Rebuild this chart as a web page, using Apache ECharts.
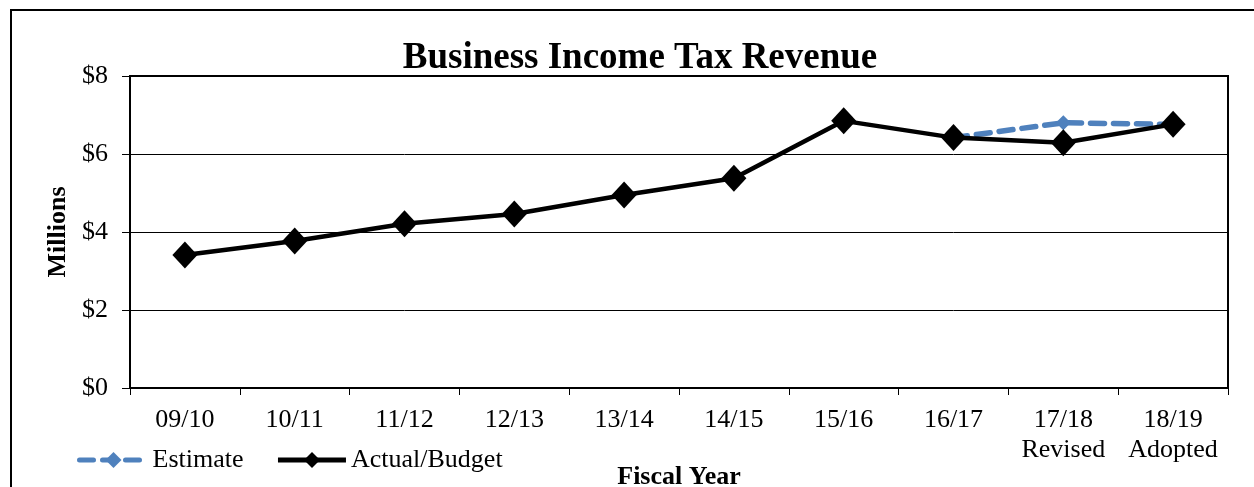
<!DOCTYPE html>
<html>
<head>
<meta charset="utf-8">
<script src="https://cdn.jsdelivr.net/npm/echarts@6/dist/echarts.min.js"></script>
<style>
  html, body { margin: 0; padding: 0; background: #fff; }
  #chart { width: 1254px; height: 487px; }
</style>
</head>
<body>
<div id="chart"></div>
<script>
// Fiscal years (second line marks the revised / adopted budgets)
const categories = ['09/10', '10/11', '11/12', '12/13', '13/14', '14/15', '15/16', '16/17', '17/18\nRevised', '18/19\nAdopted'];
// Revenue in millions of dollars
const actualBudget = [3.41, 3.77, 4.21, 4.46, 4.95, 5.38, 6.85, 6.42, 6.29, 6.76];
const estimate = [null, null, null, null, null, null, null, 6.42, 6.80, 6.76];
const yTicks = [0, 2, 4, 6, 8];

const serif = '"Liberation Serif", "Times New Roman", serif';
const chart = echarts.init(document.getElementById('chart'));

chart.setOption({
  animation: false,
  backgroundColor: '#fff',
  title: {
    text: 'Business Income Tax Revenue',
    left: 635, top: 35, textAlign: 'center',
    textStyle: { fontFamily: serif, fontWeight: 'bold', fontSize: 37, color: '#000' }
  },
  legend: {
    left: 72, top: 442,
    itemWidth: 68, itemHeight: 20, itemGap: 32,
    lineStyle: { width: 5 },
    textStyle: { fontFamily: serif, fontSize: 26, color: '#000', padding: [0, 0, 0, 0] },
    data: ['Estimate', 'Actual/Budget']
  },
  grid: {
    left: 130, top: 76, right: 26, bottom: 99,
    outerBoundsMode: 'none',
    show: true, borderColor: '#000', borderWidth: 2
  },
  xAxis: {
    type: 'category',
    data: categories,
    boundaryGap: true,
    name: 'Fiscal Year',
    nameLocation: 'middle', nameGap: 76,
    nameMoveOverlap: false,
    nameTextStyle: { fontFamily: serif, fontWeight: 'bold', fontSize: 26, color: '#000' },
    axisLine: { lineStyle: { color: '#000', width: 2 } },
    axisTick: { show: true, length: 7, lineStyle: { color: '#000', width: 1 } },
    axisLabel: {
      fontFamily: serif, fontSize: 26, color: '#000',
      margin: 17, lineHeight: 30, interval: 0
    }
  },
  yAxis: {
    type: 'value',
    min: yTicks[0], max: yTicks[yTicks.length - 1], interval: 2,
    name: 'Millions',
    nameLocation: 'middle', nameRotate: 90, nameGap: 59,
    nameMoveOverlap: false,
    nameTextStyle: { fontFamily: serif, fontWeight: 'bold', fontSize: 26, color: '#000' },
    axisLine: { show: true, lineStyle: { color: '#000', width: 2 } },
    axisTick: { show: true, inside: false, length: 8, lineStyle: { color: '#000', width: 1 } },
    axisLabel: {
      fontFamily: serif, fontSize: 26, color: '#000', margin: 22,
      formatter: v => '$' + v
    },
    splitLine: { show: true, lineStyle: { color: '#000', width: 1 } }
  },
  series: [
    {
      name: 'Estimate',
      type: 'line',
      data: estimate,
      z: 2,
      symbol: 'diamond', symbolSize: 15,
      itemStyle: { color: '#4F81BD' },
      lineStyle: { color: '#4F81BD', width: 5.5, type: [14, 9], cap: 'round' }
    },
    {
      name: 'Actual/Budget',
      type: 'line',
      data: actualBudget,
      z: 3,
      symbol: 'diamond', symbolSize: [25, 27],
      itemStyle: { color: '#000' },
      lineStyle: { color: '#000', width: 4.5 }
    }
  ],
  graphic: [
    {
      // page frame (top and left edges show; the rest runs off the page)
      type: 'rect',
      shape: { x: 11, y: 10, width: 1300, height: 520 },
      style: { fill: null, stroke: '#000', lineWidth: 2 },
      silent: true
    }
  ]
});
</script>
</body>
</html>
